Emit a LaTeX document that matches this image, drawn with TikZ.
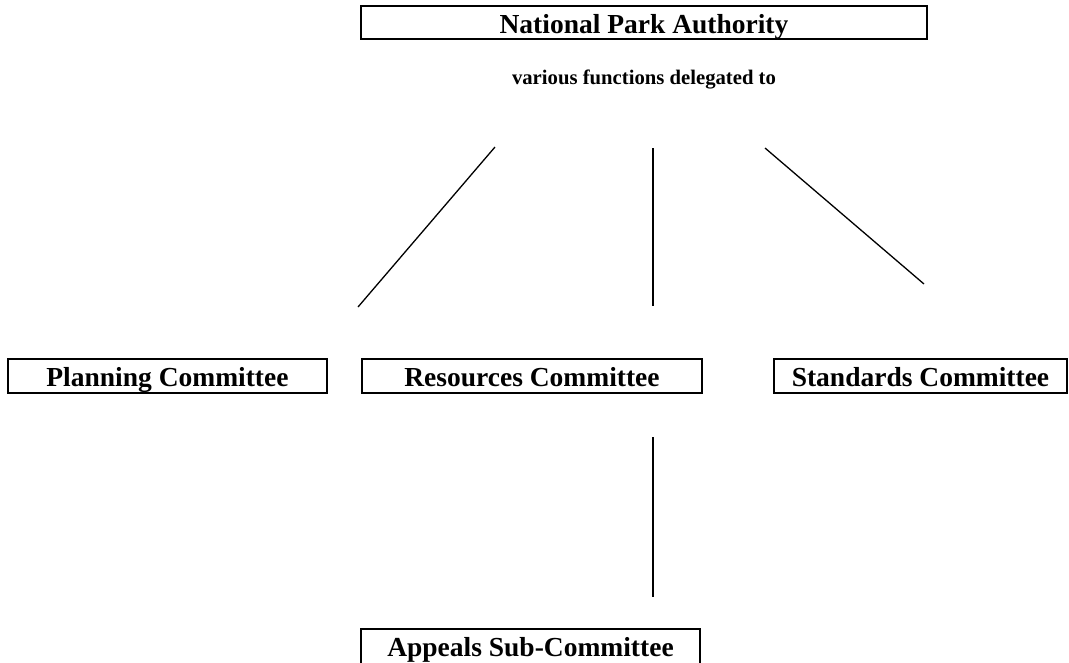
\documentclass[tikz,border=0pt]{standalone}
\usepackage{fontspec}
\setmainfont{Liberation Serif}
\begin{document}
\begin{tikzpicture}[x=1pt,y=-1pt,
  orgbox/.style={draw,line width=1.8pt,inner sep=0pt},
  lbl/.style={font=\fontsize{27.5}{32}\selectfont\bfseries,anchor=base,inner sep=0pt},
  note/.style={font=\fontsize{20.7}{24}\selectfont\bfseries,anchor=base,inner sep=0pt},
  conn/.style={line width=1.3pt}]
\clip (0,0) rectangle (1069,662);
\useasboundingbox (0,0) rectangle (1069,662);
% boxes
\draw[orgbox] (361,6) rectangle (927,39);
\node[lbl] (npa) at (644,33) {National Park Authority};
\node[note] (vf) at (644,84) {various functions delegated to};
\draw[orgbox] (8,359) rectangle (327,393);
\node[lbl] (plan) at (167.5,386) {Planning Committee};
\draw[orgbox] (362,359) rectangle (702,393);
\node[lbl] (res) at (532,386) {Resources Committee};
\draw[orgbox] (774,359) rectangle (1067,393);
\node[lbl] (std) at (920.5,386) {Standards Committee};
\draw[orgbox] (361,629) rectangle (700,680);
\node[lbl] (app) at (530.5,656) {Appeals Sub-Committee};
% connector ends
\coordinate (l1) at (495,147); \coordinate (l2) at (358,307);
\coordinate (m1) at (653,148); \coordinate (m2) at (653,306);
\coordinate (r1) at (765,148); \coordinate (r2) at (924,284);
\coordinate (a1) at (653,437); \coordinate (a2) at (653,597);
\draw[conn] (l1) -- (l2);
\draw[conn] (m1) -- (m2);
\draw[conn] (r1) -- (r2);
\draw[conn] (a1) -- (a2);
\end{tikzpicture}
\end{document}
